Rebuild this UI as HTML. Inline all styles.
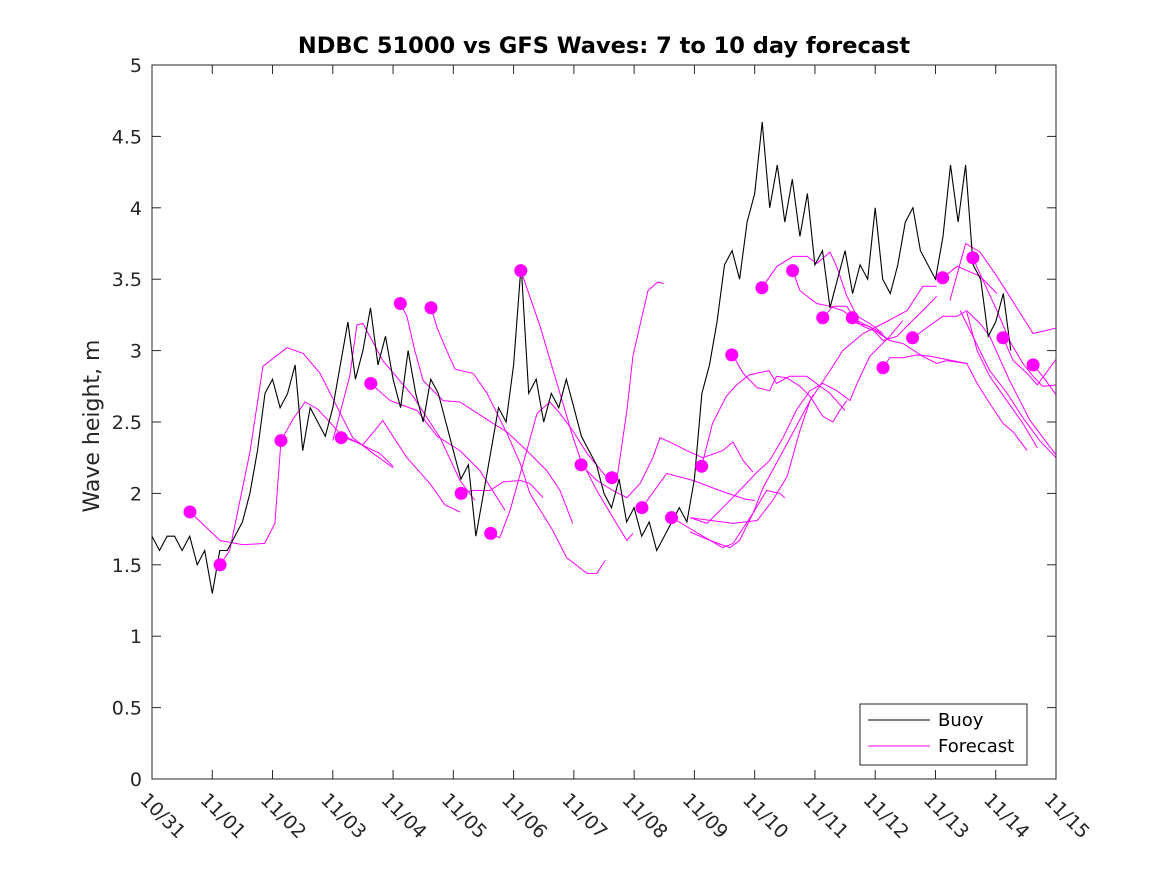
<!DOCTYPE html>
<html><head><meta charset="utf-8"><style>
html,body{margin:0;padding:0;background:#fff;}
svg{display:block;font-family:"DejaVu Sans","Liberation Sans",sans-serif;}
</style></head><body>
<svg id="chart" width="1167" height="875" viewBox="0 0 1167 875">
<rect x="0" y="0" width="1167" height="875" fill="#fff"/>
<defs><clipPath id="pc"><rect x="152" y="65" width="904" height="714"/></clipPath></defs>
<text x="604" y="53" text-anchor="middle" font-size="22.5" font-weight="bold" fill="#000">NDBC 51000 vs GFS Waves: 7 to 10 day forecast</text>
<text transform="translate(99,426) rotate(-90)" text-anchor="middle" font-size="22" fill="#262626">Wave height, m</text>
<g id="axes"></g>
<g id="series" clip-path="url(#pc)"></g>
<rect x="152" y="65" width="904" height="714" fill="none" stroke="#262626" stroke-width="1"/>
<g>
<rect x="860" y="704" width="167" height="61" fill="#fff" stroke="#262626" stroke-width="1"/>
<line x1="868" y1="720" x2="930" y2="720" stroke="#000" stroke-width="1"/>
<text x="938" y="726" font-size="18" fill="#000">Buoy</text>
<line x1="868" y1="746" x2="930" y2="746" stroke="#ff00ff" stroke-width="1"/>
<text x="938" y="752" font-size="18" fill="#000">Forecast</text>
</g>
</svg>
<script>
const xTickLabels=["10/31","11/01","11/02","11/03","11/04","11/05","11/06","11/07","11/08","11/09","11/10","11/11","11/12","11/13","11/14","11/15"];
const yTicks=[0,0.5,1,1.5,2,2.5,3,3.5,4,4.5,5];
const yTickLabels=["0","0.5","1","1.5","2","2.5","3","3.5","4","4.5","5"];
const buoyStepDays=0.125;
const buoyValues=[1.7,1.6,1.7,1.7,1.6,1.7,1.5,1.6,
1.3,1.6,1.6,1.7,1.8,2.0,2.3,2.7,
2.8,2.6,2.7,2.9,2.3,2.6,2.5,2.4,
2.6,2.9,3.2,2.8,3.0,3.3,2.9,3.1,
2.8,2.6,3.0,2.7,2.5,2.8,2.7,2.5,
2.3,2.1,2.2,1.7,2.0,2.3,2.6,2.5,
2.9,3.6,2.7,2.8,2.5,2.7,2.6,2.8,
2.6,2.4,2.3,2.2,2.0,1.9,2.1,1.8,
1.9,1.7,1.8,1.6,1.7,1.8,1.9,1.8,
2.1,2.7,2.9,3.2,3.6,3.7,3.5,3.9,
4.1,4.6,4.0,4.3,3.9,4.2,3.8,4.1,
3.6,3.7,3.3,3.5,3.7,3.4,3.6,3.5,
4.0,3.5,3.4,3.6,3.9,4.0,3.7,3.6,
3.5,3.8,4.3,3.9,4.3,3.6,3.5,3.1,
3.2,3.4,3.0];
const dotDays=[0.63,1.13,2.14,3.14,3.63,4.12,4.63,5.13,5.62,6.12,7.12,7.63,8.13,8.62,9.12,9.62,10.12,10.63,11.13,11.62,12.13,12.62,13.12,13.62,14.12,14.62];
const dotValues=[1.87,1.50,2.37,2.39,2.77,3.33,3.30,2.00,1.72,3.56,2.20,2.11,1.90,1.83,2.19,2.97,3.44,3.56,3.23,3.23,2.88,3.09,3.51,3.65,3.09,2.90];
const fcDays=[
[0.63,1.13,1.51,1.87,2.04,2.14],
[1.13,1.29,1.63,1.84,2.24,2.51,2.79,3.33,3.70,4.00],
[2.14,2.34,2.54,2.75,3.12,3.48,3.78,4.00],
[3.00,3.28,3.40,3.50,3.83,4.33,4.78,5.11,5.36],
[3.14,3.50,3.83,4.23,4.61,4.86,5.11],
[3.63,3.95,4.40,4.73,5.11,5.44,5.86],
[4.12,4.23,4.36,4.50,4.83,5.11,5.33,5.66,5.89,6.22,6.55,6.77,6.98],
[4.63,4.73,4.89,5.03,5.33,5.56,5.89,6.11,6.27,6.65,6.88,7.22,7.38,7.52],
[5.13,5.33,5.61,5.82,6.11,6.27,6.49],
[5.62,5.77,5.94,6.16,6.39,6.60,6.77,6.98,7.22,7.55],
[6.12,6.44,6.72,6.98,7.10,7.38,7.65,7.88,7.98],
[7.63,7.71,7.88,7.98,8.13,8.23,8.39,8.49],
[7.12,7.38,7.65,7.88,8.10,8.31,8.43,8.64,8.87,9.14,9.47,9.64,9.81,9.97],
[8.13,8.54,8.98,9.42,9.84,10.0],
[8.63,8.98,9.47,9.64,9.97,10.20,10.42,10.50],
[9.12,9.30,9.53,9.70,9.91,10.24,10.36,10.58,10.86,11.25,11.50],
[9.62,9.81,10.04,10.25,10.36,10.53,10.75,10.92,11.13,11.30,11.41,11.53],
[8.93,9.21,9.47,9.75,10.04,10.25,10.47,10.70,10.92,11.13,11.36,11.58,11.70,11.91,12.24,12.46],
[8.93,9.64,10.04,10.30,10.54,10.75,10.92,11.25,11.46,11.80,12.13,12.53,12.79,13.02],
[8.93,9.26,9.59,9.75,9.97,10.14,10.54,10.97],
[10.12,10.37,10.64,10.87,11.03,11.25,11.36,11.53,11.70,11.91,12.13],
[10.63,10.75,11.03,11.25,11.46,11.70,12.03,12.24],
[11.13,11.30,11.53,11.70,11.91,12.13,12.36,12.57,12.79,13.02],
[11.62,11.80,12.03,12.24,12.46,12.79,13.02,13.19,13.52],
[12.13,12.24,12.46,12.69,12.91,13.52,13.69,13.90,14.12,14.29,14.52],
[12.63,12.79,13.12,13.36,13.52,13.74,13.90,14.23,14.57,15.0],
[13.24,13.50,13.74,14.02,14.23,14.62,15.02],
[13.12,13.36,13.74,14.02],
[13.62,13.79,14.02,14.23,14.45,14.62,14.78,15.02],
[14.12,14.29,14.52,14.69,15.02],
[14.62,14.78,15.02],
[13.41,13.90,14.19,14.45,14.73,15.0],
[13.52,13.69,13.90,14.45,14.69]
];
const fcValues=[
[1.87,1.67,1.64,1.65,1.79,2.37],
[1.50,1.60,2.30,2.89,3.02,2.98,2.84,2.39,2.27,2.18],
[2.37,2.52,2.64,2.59,2.42,2.34,2.28,2.19],
[2.37,2.82,3.18,3.19,2.93,2.68,2.39,2.09,1.95],
[2.40,2.34,2.51,2.25,2.07,1.92,1.87],
[2.77,2.65,2.58,2.40,2.30,2.16,1.88],
[3.33,3.24,3.00,2.79,2.65,2.64,2.58,2.49,2.43,2.30,2.16,2.02,1.79],
[3.30,3.16,3.00,2.87,2.84,2.70,2.42,2.21,2.00,1.74,1.55,1.44,1.44,1.53],
[2.00,2.02,2.02,2.08,2.09,2.07,1.97],
[1.72,1.69,1.88,2.21,2.56,2.64,2.56,2.44,2.28,2.11],
[3.56,3.17,2.77,2.40,2.25,2.02,1.83,1.67,1.72],
[2.11,2.09,2.58,2.96,3.24,3.42,3.48,3.47],
[2.20,2.09,2.02,1.97,2.07,2.25,2.39,2.35,2.30,2.25,2.30,2.36,2.23,2.15],
[1.90,2.14,2.09,2.02,1.96,1.95],
[1.83,1.74,1.62,1.65,1.86,2.02,2.00,1.97],
[2.19,2.49,2.68,2.76,2.83,2.86,2.77,2.82,2.82,2.70,2.58],
[2.98,2.84,2.74,2.72,2.82,2.81,2.75,2.68,2.54,2.50,2.58,2.65],
[1.83,1.79,1.90,2.02,2.15,2.23,2.39,2.59,2.72,2.77,2.72,2.65,2.77,2.96,3.10,3.21],
[1.83,1.79,1.81,1.95,2.12,2.44,2.65,2.86,3.00,3.12,3.19,3.28,3.45,3.45],
[1.73,1.67,1.62,1.67,1.86,2.04,2.35,2.69],
[3.44,3.59,3.66,3.66,3.61,3.69,3.59,3.38,3.24,3.19,3.12],
[3.56,3.42,3.33,3.31,3.28,3.21,3.14,3.07],
[3.23,3.31,3.31,3.19,3.17,3.07,3.10,3.19,3.28,3.38],
[3.23,3.17,3.13,3.07,3.05,2.96,2.91,2.93,2.91],
[2.88,2.95,2.95,2.97,2.96,2.91,2.77,2.63,2.49,2.43,2.30],
[3.09,3.14,3.24,3.24,3.28,3.19,3.10,2.79,2.51,2.27],
[3.35,3.75,3.69,3.52,3.38,3.12,3.16],
[3.51,3.59,3.52,3.40],
[3.65,3.49,3.28,3.07,2.91,2.82,2.75,2.76],
[3.09,2.93,2.84,2.76,2.95],
[2.90,2.82,2.68],
[3.28,2.86,2.70,2.53,2.37,2.25],
[3.27,3.00,2.82,2.49,2.32]
];
const NS="http://www.w3.org/2000/svg";
const X0=152,X1=1056,Y0=779,Y1=65;
function xs(d){return X0+(X1-X0)*d/15;}
function ys(v){return Y0-(Y0-Y1)*v/5;}
const axes=document.getElementById('axes');
const series=document.getElementById('series');
function mk(tag,attrs,parent){const e=document.createElementNS(NS,tag);for(const k in attrs)e.setAttribute(k,attrs[k]);parent.appendChild(e);return e;}
yTicks.forEach((t,i)=>{
  const y=ys(t);
  const a=mk('line',{x1:X0,y1:y,x2:X0+9,y2:y,stroke:'#262626'},axes);
  
  
  const b=mk('line',{x1:X1,y1:y,x2:X1-9,y2:y,stroke:'#262626'},axes);
  
  
  const tx=mk('text',{x:X0-10,y:y+7,'text-anchor':'end','font-size':'19',fill:'#262626'},axes);
  tx.textContent=yTickLabels[i];
  
  
});
xTickLabels.forEach((l,i)=>{
  const x=xs(i);
  const a=mk('line',{x1:x,y1:Y0,x2:x,y2:Y0-9,stroke:'#262626'},axes);
  
  
  const b=mk('line',{x1:x,y1:Y1,x2:x,y2:Y1+9,stroke:'#262626'},axes);
  
  
  const tx=mk('text',{x:x-13,y:801,'font-size':'19',fill:'#262626',transform:'rotate(45 '+(x-13)+' 801)'},axes);
  tx.textContent=l;
  
  
});
fcDays.forEach((ds,i)=>{
  const pts=ds.map((d,j)=>xs(d).toFixed(1)+','+ys(fcValues[i][j]).toFixed(1)).join(' ');
  const p=mk('polyline',{points:pts,fill:'none',stroke:'#ff00ff','stroke-width':'1'},series);
  
  
});
const bpts=buoyValues.map((v,i)=>xs(i*buoyStepDays).toFixed(1)+','+ys(v).toFixed(1)).join(' ');
const bl=mk('polyline',{points:bpts,fill:'none',stroke:'#000','stroke-width':'1.1'},series);


dotDays.forEach((d,i)=>{
  const c=mk('circle',{cx:xs(d),cy:ys(dotValues[i]),r:6.5,fill:'#ff00ff'},series);
  
  
});
</script>
</body></html>
